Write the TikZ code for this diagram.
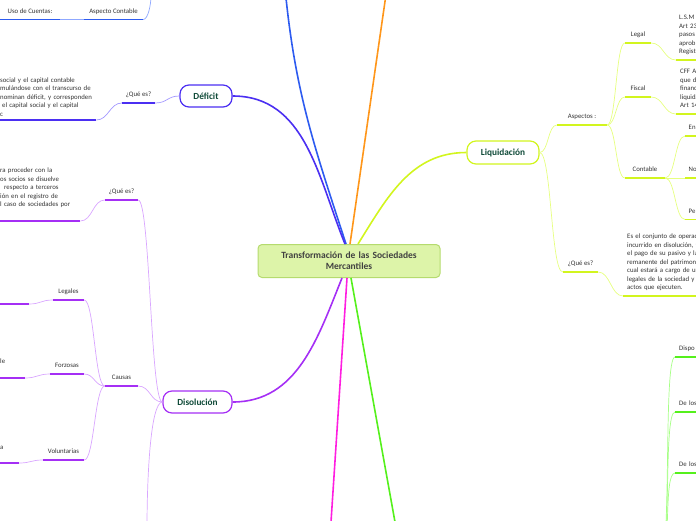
\documentclass[tikz,border=0pt]{standalone}
\usepackage{fontspec}
\setmainfont{Carlito}
\usetikzlibrary{positioning}

\definecolor{txtgray}{HTML}{333333}
\definecolor{nodegreen}{HTML}{0F4A38}
\definecolor{rootfill}{HTML}{DDF4A9}
\definecolor{rootline}{HTML}{B5DB6E}
\definecolor{defcol}{HTML}{4B2FF2}
\definecolor{deflight}{HTML}{A398FF}
\definecolor{bluecol}{HTML}{2D5BF0}
\definecolor{bluelight}{HTML}{8FA8FF}
\definecolor{discol}{HTML}{A52FF5}
\definecolor{dislight}{HTML}{D9A6FF}
\definecolor{liqcol}{HTML}{D2F51E}
\definecolor{liqlight}{HTML}{E6FF80}
\definecolor{magcol}{HTML}{FF1EE0}
\definecolor{orgcol}{HTML}{FF961A}
\definecolor{grncol}{HTML}{55F01C}
\definecolor{grnlight}{HTML}{A6FF85}

\tikzset{
  rootbox/.style={draw=rootline, fill=rootfill, line width=1pt,
    rounded corners=4pt, minimum width=182pt, minimum height=33pt,
    text width=170pt, align=center, text=black!75,
    font=\bfseries\fontsize{9.5}{11}\selectfont},
  topic/.style={draw, fill=white, line width=1.2pt, rounded corners=9pt,
    minimum height=22pt, text=nodegreen,
    font=\bfseries\fontsize{9.3}{11}\selectfont},
  sub/.style={anchor=south, inner xsep=0pt, inner ysep=4pt, text depth=2pt,
    text=txtgray, font=\fontsize{6.8}{8.5}\selectfont},
  blk/.style={anchor=south west, inner xsep=3pt, inner ysep=3.5pt,
    align=left, text=txtgray, execute at end node=\strut,
    font=\fontsize{6.8}{8.5}\selectfont},
  branch/.style={line width=1.6pt},
  bar/.style={line width=1.6pt},
  twig/.style={line width=0.7pt}
}

\begin{document}
\begin{tikzpicture}[x=1pt, y=-1pt]
  \useasboundingbox (0,0) rectangle (696,520);
  \clip (0,0) rectangle (696,520);

  % centre and main topics
  \node (root)    [rootbox] at (349,261)
                  {Transformación de las Sociedades\\Mercantiles};
  \node (deficit) [topic, draw=defcol, minimum width=52pt] at (206,96)
                  {Déficit};
  \node (disol)   [topic, draw=discol, minimum width=69pt] at (197.5,402)
                  {Disolución};
  \node (liq)     [topic, draw=liqcol, minimum width=72pt,
                  minimum height=23pt] at (503,152.5)
                  {Liquidación};
  \coordinate (bluetop) at (286,-2);
  \coordinate (orgtop)  at (385.5,-2);
  \coordinate (magbot)  at (331,522);
  \coordinate (grnbot)  at (395,522);

  % Deficit
  \node (defq)   [sub, minimum width=33pt] at (138.5,103) {¿Qué es?};
  \node (deftxt) [blk, inner xsep=0pt, inner ysep=1pt, text width=96pt]
                 at (0,120)
                 {social y el capital contable\\mulándose con el transcurso de\\
                  nominan déficit, y corresponden\\
                  \hspace*{2pt}el capital social y el capital\\c};

  % Disolucion
  \node (disq)     [sub, minimum width=33pt] at (121.5,200) {¿Qué es?};
  \node (distxt)   [blk, inner xsep=0pt, inner ysep=11.5pt, text width=80pt]
                   at (0,221)
                   {ra proceder con la\\os socios se disuelve\\
                    \hspace*{4pt}respecto a terceros\\ión en el registro de\\
                    l caso de sociedades por};
  \node (causas)   [sub, minimum width=33pt] at (121.5,386) {Causas};
  \node (legales)  [sub, minimum width=31pt] at (68.5,300) {Legales};
  \node (forzosas) [sub, minimum width=34pt] at (67,374) {Forzosas};
  \node (volunt)   [sub, minimum width=41pt] at (63.5,460) {Voluntarias};
  \node (forztxt)  [blk, inner xsep=0pt] at (0,370) {le};
  \node (voltxt)   [blk, inner xsep=0pt] at (0,456) {a};
  \coordinate (legbar)  at (29,304);
  \coordinate (forzbar) at (25,378);
  \coordinate (volbar)  at (19,463);
  \coordinate (disbot)  at (147,528);

  % blue branch, top left
  \node (asp) [sub, minimum width=59pt] at (113.5,19.5) {Aspecto Contable};
  \node (uso) [sub, minimum width=60pt] at (30,19.5) {Uso de Cuentas:};
  \coordinate (aspup) at (151,-4);

  % Liquidacion
  \node (liqasp)    [sub, minimum width=50pt] at (582,125) {Aspectos :};
  \node (liqq)      [sub, minimum width=35pt] at (580.5,272) {¿Qué es?};
  \node (legal)     [sub, minimum width=26pt] at (638,43) {Legal};
  \node (fiscal)    [sub, minimum width=26pt] at (638,97) {Fiscal};
  \node (contab)    [sub, minimum width=40pt] at (645,178) {Contable};
  \node (legaltxt)  [blk, text width=40pt] at (676,60)
                    {L.S.M\\Art 23\\pasos\\aprob\\Regist};
  \node (fiscaltxt) [blk, inner xsep=4pt, text width=40pt] at (676,114)
                    {CFF Ar\\que di\\financ\\liquida\\Art 14};
  \node (liqtxt)    [blk, inner xsep=4pt, text width=90pt] at (623,296)
                    {Es el conjunto de operaci\\incurrido en disolución, t\\
                     el pago de su pasivo y la\\remanente del patrimoni\\
                     cual estará a cargo de ur\\legales de la sociedad y r\\
                     actos que ejecuten.};
  \node (en) [sub, anchor=south west, inner xsep=3.5pt, text width=16pt,
             align=left] at (685,136) {En};
  \node (no) [sub, anchor=south west, inner xsep=3.5pt, text width=16pt,
             align=left] at (685,178) {No};
  \node (pe) [sub, anchor=south west, inner xsep=3.5pt, text width=16pt,
             align=left] at (685,219.5) {Pe};

  % green branch, bottom right
  \node (dispo)  [sub, anchor=south west, inner xsep=4pt, text width=25pt,
                 align=left] at (675,357) {Dispo};
  \node (delos1) [sub, anchor=south west, inner xsep=4pt, text width=25pt,
                 align=left] at (675,412) {De los};
  \node (delos2) [sub, anchor=south west, inner xsep=4pt, text width=25pt,
                 align=left] at (675,473) {De los};
  \coordinate (grnpar) at (660,560);

  % main branches
  \draw[branch, bluecol] ([xshift=-3pt]root.north) to[out=108,in=-84] (bluetop);
  \draw[branch, orgcol]  ([xshift=1pt]root.north) -- (orgtop);
  \draw[branch, defcol]  ([xshift=-4pt]root.north) to[out=112,in=0] (deficit.east);
  \draw[branch, liqcol]  ([xshift=9pt]root.north) to[out=58,in=180] (liq.west);
  \draw[branch, discol]  ([xshift=-7pt]root.south) to[out=-112,in=0] (disol.east);
  \draw[branch, magcol]  ([xshift=-2pt]root.south) -- (magbot);
  \draw[branch, grncol]  ([xshift=2pt]root.south) -- (grnbot);

  % Deficit links
  \draw[twig, deflight] (deficit.west) to[out=180,in=0,distance=12pt] (defq.south east);
  \draw[twig, deflight] (defq.south west) to[out=180,in=0,distance=12pt] (deftxt.south east);
  \foreach \k in {defq, deftxt}
    \draw[bar, defcol] (\k.south west) -- (\k.south east);

  % blue links
  \draw[twig, bluelight] (asp.south west) -- (uso.south east);
  \draw[twig, bluelight] (asp.south east)
    to[out=0,in=-90,out distance=5pt,in distance=8pt] (aspup);
  \foreach \k in {asp, uso}
    \draw[bar, bluecol] (\k.south west) -- (\k.south east);

  % Disolucion links
  \draw[twig, dislight] (disol.west) to[out=180,in=0,distance=12pt] (disq.south east);
  \draw[twig, dislight] (disq.south west) to[out=180,in=0,distance=12pt] (distxt.south east);
  \draw[twig, dislight] (disol.west) to[out=180,in=0,distance=12pt] (causas.south east);
  \draw[twig, dislight] (disol.west)
    to[out=180,in=90,out distance=12pt,in distance=50pt] (disbot);
  \foreach \k in {legales, forzosas, volunt}
    \draw[twig, dislight] (causas.south west) to[out=180,in=0,distance=10pt] (\k.south east);
  \draw[twig, dislight] (legales.south west) to[out=180,in=0,distance=12pt] (legbar);
  \draw[twig, dislight] (forzosas.south west) to[out=180,in=0,distance=12pt] (forzbar);
  \draw[twig, dislight] (volunt.south west) to[out=180,in=0,distance=12pt] (volbar);
  \foreach \k in {disq, distxt, causas, legales, forzosas, volunt}
    \draw[bar, discol] (\k.south west) -- (\k.south east);
  \foreach \k in {legbar, forzbar, volbar}
    \draw[bar, discol] (\k) -- ++(-40,0);

  % Liquidacion links
  \draw[twig, liqlight] (liq.east) to[out=0,in=180,distance=9pt] (liqasp.south west);
  \draw[twig, liqlight] (liq.east) to[out=0,in=180,distance=12pt] (liqq.south west);
  \foreach \k in {legal, fiscal, contab}
    \draw[twig, liqlight] (liqasp.south east) to[out=0,in=180,distance=9pt] (\k.south west);
  \draw[twig, liqlight] (legal.south east) to[out=0,in=180,distance=12pt] (legaltxt.south west);
  \draw[twig, liqlight] (fiscal.south east) to[out=0,in=180,distance=12pt] (fiscaltxt.south west);
  \draw[twig, liqlight] (liqq.south east) to[out=0,in=180,distance=12pt] (liqtxt.south west);
  \foreach \k in {en, no, pe}
    \draw[twig, liqlight] (contab.south east) to[out=0,in=180,distance=10pt] (\k.south west);
  \foreach \k in {liqasp, liqq, legal, fiscal, contab, legaltxt, fiscaltxt, liqtxt, en, no, pe}
    \draw[bar, liqcol] (\k.south west) -- (\k.south east);

  % green links
  \foreach \k in {dispo, delos1, delos2}
    \draw[twig, grnlight] (grnpar) to[out=0,in=180,distance=12pt] (\k.south west);
  \foreach \k in {dispo, delos1, delos2}
    \draw[bar, grncol] (\k.south west) -- (\k.south east);
\end{tikzpicture}
\end{document}
